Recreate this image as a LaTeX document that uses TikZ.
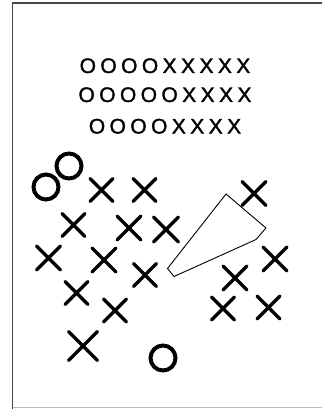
\documentclass[tikz,border=0pt]{standalone}
\usepackage{fontspec}
\usepackage{tikz}
\usetikzlibrary{positioning,calc}
\newfontfamily\markfont[LetterSpace=21,FakeBold=1.6]{Liberation Sans}
\definecolor{frameink}{HTML}{444444}
\definecolor{framelight}{HTML}{BBBBBB}
\tikzset{
  handmark/.style={line width=3.3pt,line cap=round,line join=round},
  handring/.style={line width=4pt},
  tallyrow/.style={font=\markfont\fontsize{21}{21}\selectfont,inner sep=0pt,anchor=base}
}

\begin{document}
\begin{tikzpicture}[x=1pt,y=-1pt]
  \useasboundingbox (0,0) rectangle (322,409);
  % sheet edges
  \draw[frameink,line width=1.5pt] (12.5,409)--(12.5,3.2)--(322,3.2);
  \draw[framelight,line width=1.5pt] (12.5,407.6)--(322,407.6);

  % the three printed rows
  \node[tallyrow] (row1) at (165,73) {OOOOXXXXX};
  \node[tallyrow] (row2) at (165,102) {OOOOOXXXX};
  \node[tallyrow] (row3) at (165,133.5) {OOOOXXXX};

  % scribbled crosses
  \foreach \x/\y/\s in {101.5/190/11.5,144.5/190/11.5,73.5/225/11.5,
      129/228/12,166/229.5/12.5,48.5/258/12,104/260/12,145/275/11.5,
      76.5/293/11.5,115/310.5/11.5,83/346/14.5,254/193.5/12,
      275/259/12,235/278/12,223/308.5/11.5,268.5/307.5/11.5}{
    \draw[handmark] (\x-\s,\y-\s)--(\x+\s,\y+\s)
      (\x-\s,\y+\s)--(\x+\s,\y-\s);
  }
  % scribbled noughts
  \foreach \x/\y in {46/187,69/166,163/358}{
    \draw[handring] (\x,\y) circle (12.5);
  }

  % thin wedge
  \draw[line width=0.9pt,line join=miter]
    (226,194)--(266,228)--(256,239.5)--(174,276.5)--(167.5,268.5)--cycle;
\end{tikzpicture}
\end{document}
